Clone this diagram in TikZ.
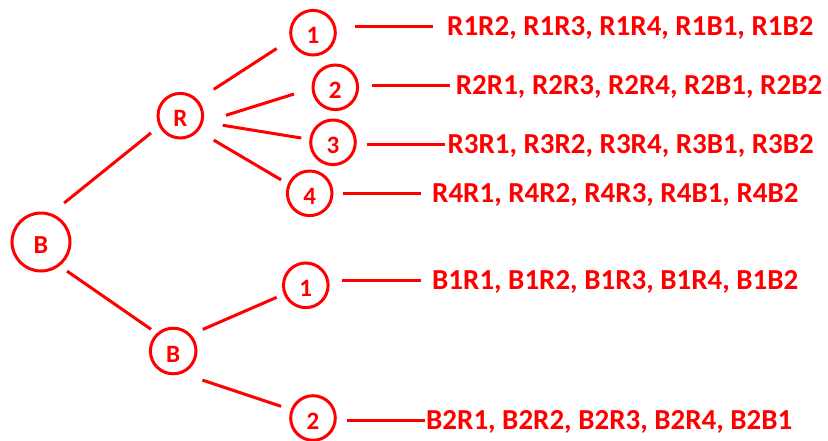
\documentclass[tikz,border=0pt]{standalone}
\usepackage{fontspec}
\setmainfont{Carlito}
\begin{document}
\begin{tikzpicture}[x=1pt, y=-1pt,
    circ/.style={draw=red, circle, line width=3pt, inner sep=0pt, outer sep=0pt,
        minimum size=44.6pt, text=red, font=\fontsize{25}{25}\selectfont\bfseries,
        text height=22pt, text depth=0pt},
    seq/.style={anchor=west, inner sep=0pt, text=red,
        font=\fontsize{29}{30}\selectfont\bfseries, text height=18.7pt, text depth=0pt},
    wire/.style={draw=red, line width=3pt}]
    \useasboundingbox (0,0) rectangle (828,440);

    % Root and first draw
    \node[circ, minimum size=58pt, font=\fontsize{26}{26}\selectfont\bfseries] (b0) at (41,242) {B};
    \node[circ] (r) at (180.3,115.7) {R};
    \node[circ, minimum size=45.6pt] (b) at (173.2,351) {B};

    % Second draw after R
    \node[circ] (r1) at (313,32.7) {1};
    \node[circ] (r2) at (335.3,87.3) {2};
    \node[circ] (r3) at (333,142.3) {3};
    \node[circ] (r4) at (309.7,193.3) {4};

    % Second draw after B
    \node[circ] (b1) at (305.8,285.3) {1};
    \node[circ] (b2) at (313,418) {2};

    % Branches
    \draw[wire, shorten <=18.2pt, shorten >=11.9pt] (b0.72.2) -- (r.206.2);
    \draw[wire, shorten <=10.5pt, shorten >=8.4pt] (b0.307.6) -- (b.132.2);
    \draw[wire, shorten <=20.5pt, shorten >=17.8pt] (r.43.4) -- (r1.196.6);
    \draw[wire, shorten <=25.7pt, shorten >=19.9pt] (r.341.2) -- (r2.182.9);
    \draw[wire, shorten <=21.2pt, shorten >=9.7pt] (r.344.8) -- (r3.173);
    \draw[wire, shorten <=19.2pt, shorten >=9.4pt] (r.319.4) -- (r4.157.6);
    \draw[wire, shorten <=14.4pt, shorten >=9.2pt] (b.44.5) -- (b1.202);
    \draw[wire, shorten <=23.4pt, shorten >=11.7pt] (b.288.6) -- (b2.159.3);

    % Outcomes
    \node[seq] (t1) at (447,26.3) {R1R2, R1R3, R1R4, R1B1, R1B2};
    \node[seq] (t2) at (455.7,85.3) {R2R1, R2R3, R2R4, R2B1, R2B2};
    \node[seq] (t3) at (447.3,144) {R3R1, R3R2, R3R4, R3B1, R3B2};
    \node[seq] (t4) at (432,193) {R4R1, R4R2, R4R3, R4B1, R4B2};
    \node[seq] (u1) at (432,280.3) {B1R1, B1R2, B1R3, B1R4, B1B2};
    \node[seq] (u2) at (426,420.3) {B2R1, B2R2, B2R3, B2R4, B2B1};

    \draw[wire, shorten <=19.7pt, shorten >=13.7pt] (r1.east |- t1.west) -- (t1.west);
    \draw[wire, shorten <=14.7pt, shorten >=5.7pt] (r2.east |- t2.west) -- (t2.west);
    \draw[wire, shorten <=12pt, shorten >=2.3pt] (r3.east |- t3.west) -- (t3.west);
    \draw[wire, shorten <=10.7pt, shorten >=11.3pt] (r4.east |- t4.west) -- (t4.west);
    \draw[wire, shorten <=14.2pt, shorten >=11.3pt] (b1.east |- u1.west) -- (u1.west);
    \draw[wire, shorten <=12pt, shorten >=1pt] (b2.east |- u2.west) -- (u2.west);
\end{tikzpicture}
\end{document}
